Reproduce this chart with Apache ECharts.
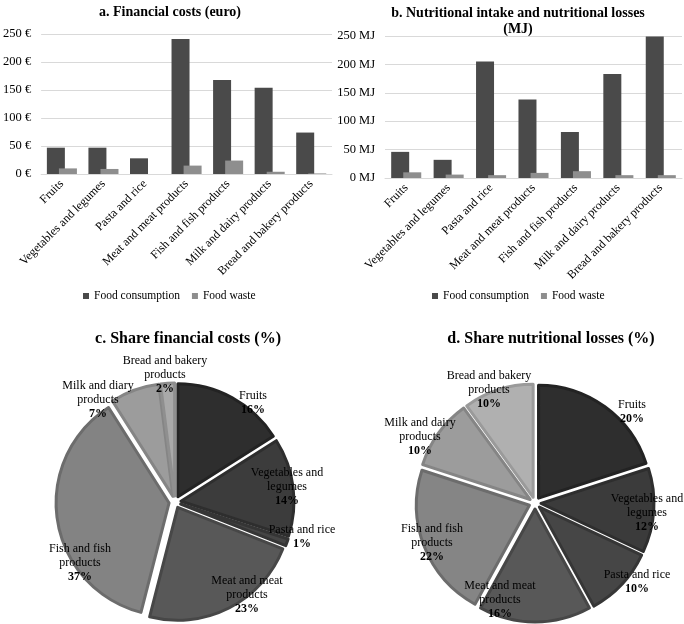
<!DOCTYPE html>
<html>
<head>
<meta charset="utf-8">
<script src="https://cdn.jsdelivr.net/npm/echarts@6/dist/echarts.min.js"></script>
<style>html,body{margin:0;padding:0;background:#fff}#c{width:684px;height:624px}</style>
</head>
<body>
<div id="c"></div>
<script>
// ---- data ----
var categories = ['Fruits', 'Vegetables and legumes', 'Pasta and rice', 'Meat and meat products', 'Fish and fish products', 'Milk and dairy products', 'Bread and bakery products'];
var costConsumption = [47, 47, 28, 241, 168, 154, 74];
var costWaste = [10, 9, 0, 15, 24, 4, 1];
var mjConsumption = [46, 32, 205, 138, 81, 183, 249];
var mjWaste = [10, 6, 5, 9, 12, 5, 5];
var yTicks = [0, 50, 100, 150, 200, 250];
var pieNamesC = ['Fruits', 'Vegetables and\nlegumes', 'Pasta and rice', 'Meat and meat\nproducts', 'Fish and fish\nproducts', 'Milk and diary\nproducts', 'Bread and bakery\nproducts'];
var pieValuesC = [16, 14, 1, 23, 37, 7, 2];
var pieNamesD = ['Fruits', 'Vegetables and\nlegumes', 'Pasta and rice', 'Meat and meat\nproducts', 'Fish and fish\nproducts', 'Milk and dairy\nproducts', 'Bread and bakery\nproducts'];
var pieValuesD = [20, 12, 10, 16, 22, 10, 10];

// ---- styles ----
var FONT = 'Liberation Serif, Times New Roman, serif';
var fillC = ['#2e2e2e', '#3c3c3c', '#454545', '#585858', '#838383', '#9c9c9c', '#a9a9a9'];
var borderC = ['#232323', '#2e2e2e', '#353535', '#474747', '#6c6c6c', '#858585', '#8f8f8f'];
var fillD = ['#2e2e2e', '#3b3b3b', '#464646', '#585858', '#858585', '#9c9c9c', '#b0b0b0'];
var borderD = ['#232323', '#2e2e2e', '#363636', '#474747', '#6c6c6c', '#858585', '#9a9a9a'];
var centerC = [175, 502], centerD = [535, 503];
var labelOffC = [[78, -99], [112, -15], [127, 35], [72, 93], [-95, 61], [-77, -102], [-10, -127]];
var labelOffD = [[97, -91], [112, 10], [102, 79], [-35, 97], [-103, 40], [-115, -66], [-46, -113]];

function pieData(names, values, fills, borders) {
  return names.map(function (n, i) {
    var st = { color: fills[i], borderColor: borders[i], borderWidth: 3 };
    return { name: n, value: values[i], selected: true, itemStyle: st, select: { itemStyle: st } };
  });
}
function labelData(names, values) {
  return names.map(function (n, i) { return { name: n, value: values[i] }; });
}

var chart = echarts.init(document.getElementById('c'), null, { renderer: 'canvas' });

function yAxis(gridIndex, unit) {
  return {
    type: 'value', gridIndex: gridIndex, min: 0, max: 250, interval: 50,
    axisLine: { show: false }, axisTick: { show: false },
    splitLine: { lineStyle: { color: '#d9d9d9', width: 1 } },
    axisLabel: { margin: 10, color: '#000', fontFamily: FONT, fontSize: 12.5, formatter: function (v) { return v + ' ' + unit; } }
  };
}
function xAxis(gridIndex) {
  return {
    type: 'category', gridIndex: gridIndex, data: categories,
    axisLine: { lineStyle: { color: '#d9d9d9' } }, axisTick: { show: false },
    axisLabel: { interval: 0, rotate: 45, margin: 8, color: '#000', fontFamily: FONT, fontSize: 12 }
  };
}
function barSeries(name, data, idx, color) {
  return {
    type: 'bar', name: name, data: data, xAxisIndex: idx, yAxisIndex: idx,
    barWidth: 18, barGap: '-33%', itemStyle: { color: color }, silent: true
  };
}
function pieSeries(data, center) {
  return {
    type: 'pie', center: center, radius: 113, startAngle: 90, clockwise: true,
    selectedMode: 'multiple', selectedOffset: 6, silent: true,
    emphasis: { disabled: true },
    data: data,
    label: { show: false }, labelLine: { show: false }
  };
}
function pieLabelSeries(data, center, offs) {
  return {
    type: 'pie', center: center, radius: 113, startAngle: 90, clockwise: true,
    silent: true, emphasis: { disabled: true }, z: 5,
    itemStyle: { color: 'rgba(0,0,0,0)', borderWidth: 0 },
    data: data,
    label: {
      show: true, position: 'inside', color: '#000', fontFamily: FONT, align: 'center',
      formatter: function (p) { return '{n|' + p.name.split('\n').join('}\n{n|') + '}\n{p|' + p.value + '%}'; },
      rich: {
        n: { fontFamily: FONT, fontSize: 12, color: '#000', lineHeight: 14, align: 'center' },
        p: { fontFamily: FONT, fontSize: 12, fontWeight: 'bold', color: '#000', lineHeight: 14, align: 'center' }
      }
    },
    labelLine: { show: false },
    labelLayout: function (p) {
      var o = offs[p.dataIndex];
      return { x: center[0] + o[0], y: center[1] + o[1], align: 'center', verticalAlign: 'middle' };
    }
  };
}

var legendText = { fontFamily: FONT, fontSize: 11.5, color: '#000' };
var option = {
  backgroundColor: '#fff',
  animation: false,
  title: [
    { text: 'a. Financial costs (euro)', left: 165, top: 0, textAlign: 'center', textStyle: { fontFamily: FONT, fontSize: 14, fontWeight: 'bold', color: '#000' } },
    { text: 'b. Nutritional intake and nutritional losses\n(MJ)', left: 513, top: 0, textAlign: 'center', textStyle: { fontFamily: FONT, fontSize: 14, fontWeight: 'bold', color: '#000', lineHeight: 16 } },
    { text: 'c. Share financial costs (%)', left: 183, top: 326, textAlign: 'center', textStyle: { fontFamily: FONT, fontSize: 16, fontWeight: 'bold', color: '#000' } },
    { text: 'd. Share nutritional losses (%)', left: 546, top: 326, textAlign: 'center', textStyle: { fontFamily: FONT, fontSize: 16, fontWeight: 'bold', color: '#000' } }
  ],
  legend: [
    { data: ['Food consumption', 'Food waste'], left: 78, top: 285, icon: 'rect', itemWidth: 6, itemHeight: 6, itemGap: 12, textStyle: legendText, selectedMode: false },
    { data: ['Food consumption', 'Food waste'], left: 427, top: 285, icon: 'rect', itemWidth: 6, itemHeight: 6, itemGap: 12, textStyle: legendText, selectedMode: false }
  ],
  grid: [
    { left: 39, right: 352, top: 34, bottom: 450 },
    { left: 385, right: 2, top: 36, bottom: 446 }
  ],
  xAxis: [xAxis(0), xAxis(1)],
  yAxis: [yAxis(0, '€'), yAxis(1, 'MJ')],
  series: [
    barSeries('Food consumption', costConsumption, 0, '#4a4a4a'),
    barSeries('Food waste', costWaste, 0, '#8e8e8e'),
    barSeries('Food consumption', mjConsumption, 1, '#4a4a4a'),
    barSeries('Food waste', mjWaste, 1, '#8e8e8e'),
    pieSeries(pieData(pieNamesC, pieValuesC, fillC, borderC), centerC),
    pieSeries(pieData(pieNamesD, pieValuesD, fillD, borderD), centerD),
    pieLabelSeries(labelData(pieNamesC, pieValuesC), centerC, labelOffC),
    pieLabelSeries(labelData(pieNamesD, pieValuesD), centerD, labelOffD)
  ]
};
chart.setOption(option);
</script>
</body>
</html>
